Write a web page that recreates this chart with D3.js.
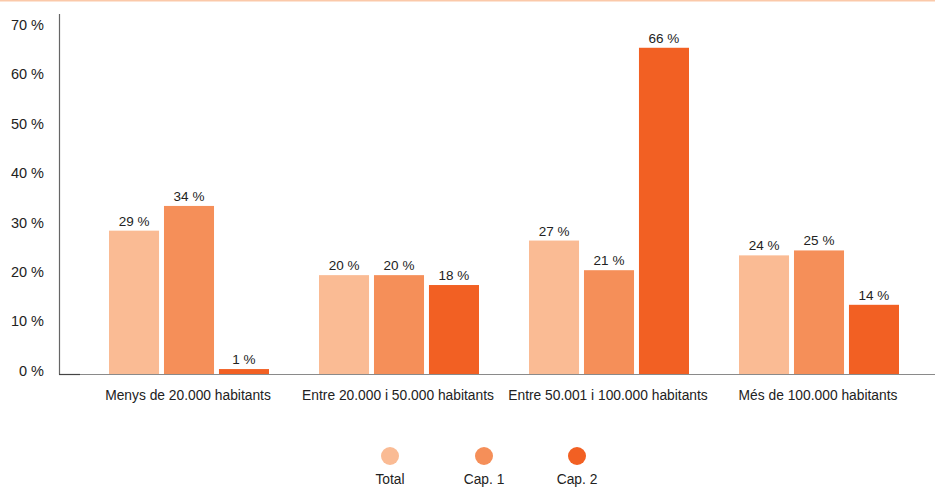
<!DOCTYPE html>
<html>
<head>
<meta charset="utf-8">
<script src="https://cdn.jsdelivr.net/npm/d3@7/dist/d3.min.js"></script>
<style>
  html, body { margin: 0; padding: 0; background: #fff; }
  svg { display: block; font-family: "Liberation Sans", Arial, Helvetica, sans-serif; }
</style>
</head>
<body>
<svg id="chart" width="935" height="487"></svg>
<script>
const categories = [
  "Menys de 20.000 habitants",
  "Entre 20.000 i 50.000 habitants",
  "Entre 50.001 i 100.000 habitants",
  "Més de 100.000 habitants"
];
const seriesNames = ["Total", "Cap. 1", "Cap. 2"];
const totalValues = [29, 20, 27, 24];
const cap1Values = [34, 20, 21, 25];
const cap2Values = [1, 18, 66, 14];
const tickValues = [0, 10, 20, 30, 40, 50, 60, 70];
const colors = ["#FABB94", "#F58F59", "#F26023"];

const seriesValues = [totalValues, cap1Values, cap2Values];

const svg = d3.select("#chart");
const W = 935;

// thin accent rule along the top edge
svg.append("rect").attr("x", 0).attr("y", 0).attr("width", W).attr("height", 1.5)
  .attr("fill", "#FBC9A9");

const x0 = d3.scaleBand().domain(categories).range([84, 924]);
const x1 = d3.scaleBand().domain(seriesNames).range([25, 185]).paddingInner(0.09);
const y = d3.scaleLinear().domain([0, 70]).range([374, 28]);

// y tick labels
svg.append("g").selectAll("text").data(tickValues).join("text")
  .attr("x", 44).attr("y", d => y(d) - 2)
  .attr("text-anchor", "end").attr("dominant-baseline", "middle")
  .attr("font-size", 14.5).attr("fill", "#222")
  .text(d => d + " %");

// bars
const groups = svg.append("g").selectAll("g").data(categories).join("g")
  .attr("transform", c => `translate(${x0(c)},0)`);

groups.selectAll("rect")
  .data((c, i) => seriesNames.map((s, k) => ({ s, v: seriesValues[k][i], k })))
  .join("rect")
  .attr("x", d => x1(d.s))
  .attr("width", x1.bandwidth())
  .attr("y", d => y(d.v))
  .attr("height", d => y(0) - y(d.v))
  .attr("fill", d => colors[d.k]);

groups.selectAll("text.val")
  .data((c, i) => seriesNames.map((s, k) => ({ s, v: seriesValues[k][i], k })))
  .join("text").attr("class", "val")
  .attr("x", d => x1(d.s) + x1.bandwidth() / 2)
  .attr("y", d => y(d.v) - 5)
  .attr("text-anchor", "middle")
  .attr("font-size", 13.5).attr("fill", "#222")
  .text(d => d.v + " %");

// axes lines
svg.append("line").attr("x1", 59.5).attr("x2", 59.5).attr("y1", 14).attr("y2", 374.5)
  .attr("stroke", "#666").attr("stroke-width", 1.2);
svg.append("line").attr("x1", 59).attr("x2", W).attr("y1", 374.5).attr("y2", 374.5)
  .attr("stroke", "#8a8a8a").attr("stroke-width", 1.2);
svg.append("line").attr("x1", 59).attr("x2", 80).attr("y1", 374.5).attr("y2", 374.5)
  .attr("stroke", "#444").attr("stroke-width", 1.2);

// category labels
svg.append("g").selectAll("text").data(categories).join("text")
  .attr("x", c => x0(c) + x0.bandwidth() / 2 - 1)
  .attr("y", 400)
  .attr("text-anchor", "middle")
  .attr("font-size", 13.8).attr("fill", "#222")
  .text(c => c);

// legend
const legendX = [390, 484, 577];
const legend = svg.append("g").selectAll("g").data(seriesNames).join("g")
  .attr("transform", (d, i) => `translate(${legendX[i]},0)`);
legend.append("circle").attr("cx", 0).attr("cy", 456).attr("r", 9)
  .attr("fill", (d, i) => colors[i]);
legend.append("text").attr("x", 0).attr("y", 484)
  .attr("text-anchor", "middle").attr("font-size", 13.8).attr("fill", "#222")
  .text(d => d);
</script>
</body>
</html>
